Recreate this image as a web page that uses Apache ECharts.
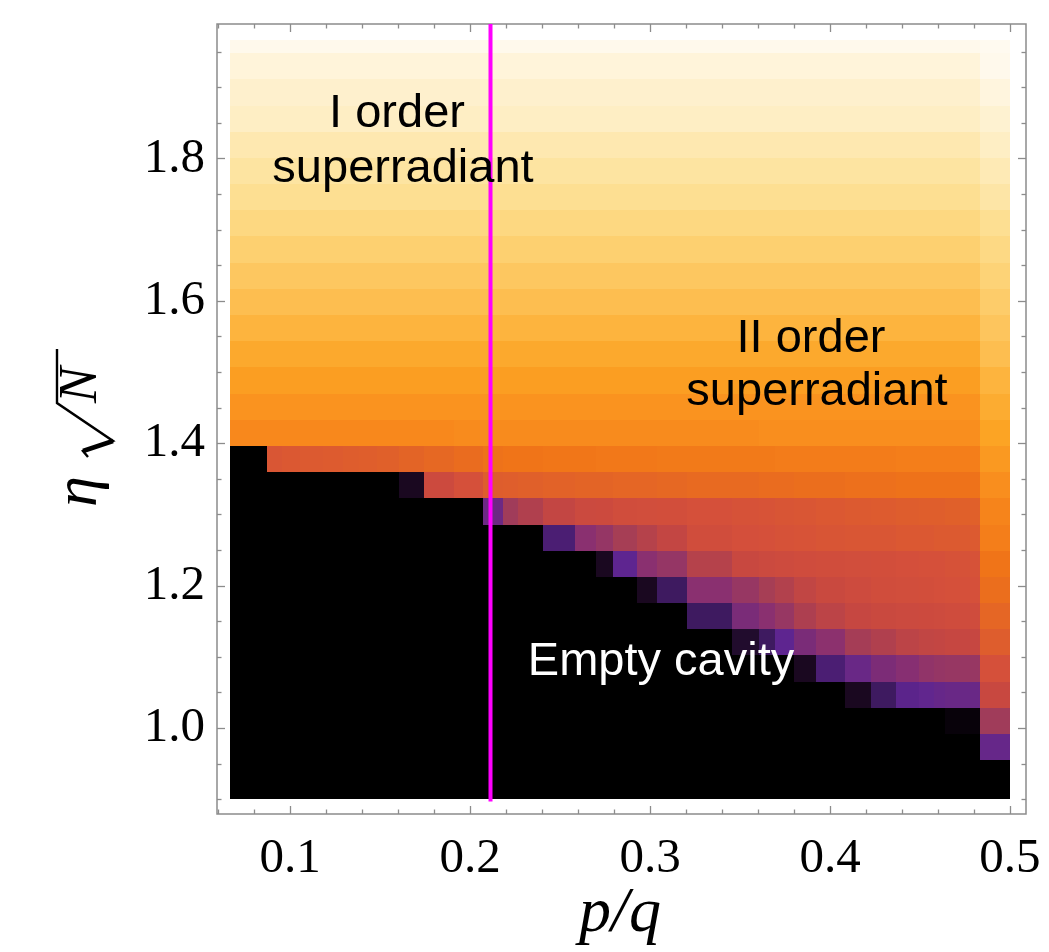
<!DOCTYPE html>
<html>
<head>
<meta charset="utf-8">
<script src="https://cdn.jsdelivr.net/npm/echarts@6/dist/echarts.min.js"></script>
<style>
html, body { margin: 0; padding: 0; background: #fff; }
#main { width: 1049px; height: 952px; }
</style>
</head>
<body>
<div id="main"></div>
<script>
// columns: p/q values (Farey fractions up to q = 15)
var xs = [1/15, 1/14, 1/13, 1/12, 1/11, 1/10, 1/9, 1/8, 2/15, 1/7,
          2/13, 1/6, 2/11, 1/5, 3/14, 2/9, 3/13, 1/4, 4/15, 3/11,
          2/7, 3/10, 4/13, 1/3, 5/14, 4/11, 3/8, 5/13, 2/5, 5/12,
          3/7, 4/9, 5/11, 6/13, 7/15, 1/2];
// rows: eta*sqrt(N)
var ys = [0.9000, 0.9368, 0.9736, 1.0103, 1.0471, 1.0839, 1.1207, 1.1575, 1.1943, 1.2310,
          1.2678, 1.3046, 1.3414, 1.3782, 1.4149, 1.4517, 1.4885, 1.5253, 1.5621, 1.5989,
          1.6356, 1.6724, 1.7092, 1.7460, 1.7828, 1.8196, 1.8563, 1.8931, 1.9299, 1.9667];

// cell values (colour level 0..18), one row per ys entry, bottom row first
var levels = [
  [0,0,0,0,0,0,0,0,0,0, 0,0,0,0,0,0,0,0,0,0, 0,0,0,0,0,0,0,0,0,0, 0,0,0,0,0,0],
  [0,0,0,0,0,0,0,0,0,0, 0,0,0,0,0,0,0,0,0,0, 0,0,0,0,0,0,0,0,0,0, 0,0,0,0,0,0],
  [0,0,0,0,0,0,0,0,0,0, 0,0,0,0,0,0,0,0,0,0, 0,0,0,0,0,0,0,0,0,0, 0,0,0,0,0,3.3],
  [0,0,0,0,0,0,0,0,0,0, 0,0,0,0,0,0,0,0,0,0, 0,0,0,0,0,0,0,0,0,0, 0,0,0,0,0.3,6],
  [0,0,0,0,0,0,0,0,0,0, 0,0,0,0,0,0,0,0,0,0, 0,0,0,0,0,0,0,0,0,1, 2,2.9,3.1,3.3,3.4,8],
  [0,0,0,0,0,0,0,0,0,0, 0,0,0,0,0,0,0,0,0,0, 0,0,0,0,0,0,0,1,2.4,3.4, 4.1,4.8,5.3,5.5,5.6,9],
  [0,0,0,0,0,0,0,0,0,0, 0,0,0,0,0,0,0,0,0,0, 0,0,0,0,1.2,2,3,4,5.1,6.3, 7,7.5,7.7,7.8,7.9,9.8],
  [0,0,0,0,0,0,0,0,0,0, 0,0,0,0,0,0,0,0,0,0, 0,0,0,2,4,5,5.6,6.8,7.5,7.9, 8.1,8.2,8.3,8.4,8.5,10.3],
  [0,0,0,0,0,0,0,0,0,0, 0,0,0,0,0,0,0,0,0,0, 0,1,2,5,5.6,6.4,7.1,7.7,8.1,8.4, 8.6,8.7,8.8,8.9,9.0,10.7],
  [0,0,0,0,0,0,0,0,0,0, 0,0,0,0,0,0,0,0,0,1, 3,5,5.5,7.2,8.0,8.2,8.4,8.5,8.6,8.7, 8.8,8.9,9.0,9.0,9.1,11.0],
  [0,0,0,0,0,0,0,0,0,0, 0,0,0,0,0,0,0,2.4,5,5.5, 6.4,7.2,7.8,8.6,8.9,9.0,9.1,9.2,9.3,9.4, 9.4,9.5,9.5,9.6,9.6,11.5],
  [0,0,0,0,0,0,0,0,0,0, 0,0,0,0,3.5,6,7,7.8,8.2,8.3, 8.6,8.7,8.8,9.0,9.1,9.2,9.3,9.4,9.5,9.6, 9.7,9.8,9.9,9.9,10.0,11.8],
  [0,0,0,0,0,0,0,0,0,0, 0,1,8.3,9.0,9.8,9.9,10.0,10.1,10.2,10.2, 10.3,10.3,10.4,10.5,10.5,10.6,10.6,10.7,10.7,10.8, 10.8,10.9,10.9,10.9,10.9,12.2],
  [0,0,0,0,9.4,9.5,9.6,9.7,9.8,9.9, 10.0,10.2,10.4,10.6,10.9,11.0,11.0,11.1,11.1,11.2, 11.2,11.2,11.3,11.3,11.3,11.3,11.4,11.4,11.4,11.4, 11.4,11.5,11.5,11.5,11.5,12.6],
  [12,12,12,12,12,12,12,12,12,12, 12,12,12,12.1,12.1,12.1,12.1,12.1,12.1,12.1, 12.1,12.1,12.1,12.1,12.1,12.2,12.2,12.2,12.2,12.2, 12.2,12.2,12.2,12.2,12.2,13.0],
  [12.4,12.4,12.4,12.4,12.4,12.4,12.4,12.4,12.4,12.4, 12.4,12.4,12.4,12.4,12.4,12.4,12.4,12.4,12.4,12.4, 12.4,12.4,12.4,12.4,12.4,12.4,12.4,12.4,12.4,12.4, 12.4,12.4,12.4,12.4,12.4,13.3],
  [12.8,12.8,12.8,12.8,12.8,12.8,12.8,12.8,12.8,12.8, 12.8,12.8,12.8,12.8,12.8,12.8,12.8,12.8,12.8,12.8, 12.8,12.8,12.8,12.8,12.8,12.8,12.8,12.8,12.8,12.8, 12.8,12.8,12.8,12.8,12.8,13.6],
  [13.2,13.2,13.2,13.2,13.2,13.2,13.2,13.2,13.2,13.2, 13.2,13.2,13.2,13.2,13.2,13.2,13.2,13.2,13.2,13.2, 13.2,13.2,13.2,13.2,13.2,13.2,13.2,13.2,13.2,13.2, 13.2,13.2,13.2,13.2,13.2,14.0],
  [13.6,13.6,13.6,13.6,13.6,13.6,13.6,13.6,13.6,13.6, 13.6,13.6,13.6,13.6,13.6,13.6,13.6,13.6,13.6,13.6, 13.6,13.6,13.6,13.6,13.6,13.6,13.6,13.6,13.6,13.6, 13.6,13.6,13.6,13.6,13.6,14.4],
  [14.0,14.0,14.0,14.0,14.0,14.0,14.0,14.0,14.0,14.0, 14.0,14.0,14.0,14.0,14.0,14.0,14.0,14.0,14.0,14.0, 14.0,14.0,14.0,14.0,14.0,14.0,14.0,14.0,14.0,14.0, 14.0,14.0,14.0,14.0,14.0,14.8],
  [14.5,14.5,14.5,14.5,14.5,14.5,14.5,14.5,14.5,14.5, 14.5,14.5,14.5,14.5,14.5,14.5,14.5,14.5,14.5,14.5, 14.5,14.5,14.5,14.5,14.5,14.5,14.5,14.5,14.5,14.5, 14.5,14.5,14.5,14.5,14.5,15.2],
  [15.0,15.0,15.0,15.0,15.0,15.0,15.0,15.0,15.0,15.0, 15.0,15.0,15.0,15.0,15.0,15.0,15.0,15.0,15.0,15.0, 15.0,15.0,15.0,15.0,15.0,15.0,15.0,15.0,15.0,15.0, 15.0,15.0,15.0,15.0,15.0,15.6],
  [15.5,15.5,15.5,15.5,15.5,15.5,15.5,15.5,15.5,15.5, 15.5,15.5,15.5,15.5,15.5,15.5,15.5,15.5,15.5,15.5, 15.5,15.5,15.5,15.5,15.5,15.5,15.5,15.5,15.5,15.5, 15.5,15.5,15.5,15.5,15.5,16.0],
  [16.0,16.0,16.0,16.0,16.0,16.0,16.0,16.0,16.0,16.0, 16.0,16.0,16.0,16.0,16.0,16.0,16.0,16.0,16.0,16.0, 16.0,16.0,16.0,16.0,16.0,16.0,16.0,16.0,16.0,16.0, 16.0,16.0,16.0,16.0,16.0,16.4],
  [16.3,16.3,16.3,16.3,16.3,16.3,16.3,16.3,16.3,16.3, 16.3,16.3,16.3,16.3,16.3,16.3,16.3,16.3,16.3,16.3, 16.3,16.3,16.3,16.3,16.3,16.3,16.3,16.3,16.3,16.3, 16.3,16.3,16.3,16.3,16.3,16.7],
  [16.6,16.6,16.6,16.6,16.6,16.6,16.6,16.6,16.6,16.6, 16.6,16.6,16.6,16.6,16.6,16.6,16.6,16.6,16.6,16.6, 16.6,16.6,16.6,16.6,16.6,16.6,16.6,16.6,16.6,16.6, 16.6,16.6,16.6,16.6,16.6,17.0],
  [17.0,17.0,17.0,17.0,17.0,17.0,17.0,17.0,17.0,17.0, 17.0,17.0,17.0,17.0,17.0,17.0,17.0,17.0,17.0,17.0, 17.0,17.0,17.0,17.0,17.0,17.0,17.0,17.0,17.0,17.0, 17.0,17.0,17.0,17.0,17.0,17.3],
  [17.2,17.2,17.2,17.2,17.2,17.2,17.2,17.2,17.2,17.2, 17.2,17.2,17.2,17.2,17.2,17.2,17.2,17.2,17.2,17.2, 17.2,17.2,17.2,17.2,17.2,17.2,17.2,17.2,17.2,17.2, 17.2,17.2,17.2,17.2,17.2,17.6],
  [17.5,17.5,17.5,17.5,17.5,17.5,17.5,17.5,17.5,17.5, 17.5,17.5,17.5,17.5,17.5,17.5,17.5,17.5,17.5,17.5, 17.5,17.5,17.5,17.5,17.5,17.5,17.5,17.5,17.5,17.5, 17.5,17.5,17.5,17.5,17.5,17.9],
  [17.9,17.9,17.9,17.9,17.9,17.9,17.9,17.9,17.9,17.9, 17.9,17.9,17.9,17.9,17.9,17.9,17.9,17.9,17.9,17.9, 17.9,17.9,17.9,17.9,17.9,17.9,17.9,17.9,17.9,17.9, 17.9,17.9,17.9,17.9,17.9,18.0]
];

// sunset-like palette, evenly spread over levels 0..18
var sunset = ['#000000', '#1a0820', '#3e1a60', '#5e2590', '#7a2c78', '#8a3070', '#a03c5a',
              '#b0404e', '#c84840', '#d5503a', '#e0602a', '#f07418', '#f8881c', '#fca424',
              '#fdbe50', '#fdd070', '#fddf92', '#feeec4', '#fffaf0'];

var xMajor = [0.1, 0.2, 0.3, 0.4, 0.5];
var xMinor = [0.06, 0.08, 0.12, 0.14, 0.16, 0.18, 0.22, 0.24, 0.26, 0.28,
              0.32, 0.34, 0.36, 0.38, 0.42, 0.44, 0.46, 0.48];
var yMajor = [1.0, 1.2, 1.4, 1.6, 1.8];
var yMinor = [0.9, 0.95, 1.05, 1.1, 1.15, 1.25, 1.3, 1.35, 1.45, 1.5, 1.55,
              1.65, 1.7, 1.75, 1.85, 1.9, 1.95];
var critX = 0.2113; // vertical magenta marker

var X_MIN = 0.0593, X_MAX = 0.5089, Y_MIN = 0.8796, Y_MAX = 1.9892;
var FRAME = '#8c8c8c';

var cells = [];
for (var k = 0; k < ys.length; k++) {
    for (var c = 0; c < xs.length; c++) {
        cells.push([xs[c], ys[k], levels[k][c], c, k]);
    }
}

// each cell spans half way to its neighbours (edge cells are half cells)
function renderCell(params, api) {
    var c = api.value(3), k = api.value(4);
    var n = xs.length - 1, m = ys.length - 1;
    var x0 = c === 0 ? xs[0] : (xs[c - 1] + xs[c]) / 2;
    var x1 = c === n ? xs[n] : (xs[c] + xs[c + 1]) / 2;
    var y0 = k === 0 ? ys[0] : (ys[k - 1] + ys[k]) / 2;
    var y1 = k === m ? ys[m] : (ys[k] + ys[k + 1]) / 2;
    var p0 = api.coord([x0, y1]);
    var p1 = api.coord([x1, y0]);
    var l = Math.round(p0[0]), t = Math.round(p0[1]);
    var r = Math.round(p1[0]), b = Math.round(p1[1]);
    return {
        type: 'rect',
        shape: { x: l, y: t, width: r - l, height: b - t },
        style: { fill: api.visual('color') }
    };
}

function xAxisDef(pos, vals, len, labels) {
    return {
        type: 'value', min: X_MIN, max: X_MAX, position: pos,
        axisLine: { show: false }, splitLine: { show: false },
        axisTick: { inside: true, length: len, customValues: vals, lineStyle: { color: FRAME, width: 1.3 } },
        axisLabel: labels ? {
            customValues: vals, margin: 21, color: '#000',
            fontFamily: 'Liberation Serif', fontSize: 49,
            formatter: function (v) { return v.toFixed(1); }
        } : { show: false }
    };
}
function yAxisDef(pos, vals, len, labels) {
    return {
        type: 'value', min: Y_MIN, max: Y_MAX, position: pos,
        axisLine: { show: false }, splitLine: { show: false },
        axisTick: { inside: true, length: len, customValues: vals, lineStyle: { color: FRAME, width: 1.3 } },
        axisLabel: labels ? {
            customValues: vals, margin: 12, color: '#000',
            fontFamily: 'Liberation Serif', fontSize: 49,
            formatter: function (v) { return v.toFixed(1); }
        } : { show: false }
    };
}

function note(txt, x, y, color) {
    return {
        type: 'text', x: x, y: y, z: 100,
        style: {
            text: txt, fill: color, font: '47px "Liberation Sans"',
            align: 'center', verticalAlign: 'middle',
            textAlign: 'center', textVerticalAlign: 'middle'
        }
    };
}

var chart = echarts.init(document.getElementById('main'));
var option = {
    animation: false,
    backgroundColor: '#ffffff',
    grid: { left: 217, right: 23, top: 24, bottom: 138, show: true,
            borderColor: FRAME, borderWidth: 1.5, backgroundColor: 'transparent' },
    xAxis: [
        xAxisDef('bottom', xMajor, 8, true),
        xAxisDef('bottom', xMinor, 4.5, false),
        xAxisDef('top', xMajor, 8, false),
        xAxisDef('top', xMinor, 4.5, false)
    ],
    yAxis: [
        yAxisDef('left', yMajor, 8, true),
        yAxisDef('left', yMinor, 4.5, false),
        yAxisDef('right', yMajor, 8, false),
        yAxisDef('right', yMinor, 4.5, false)
    ],
    visualMap: {
        show: false, type: 'continuous', min: 0, max: 18,
        dimension: 2, seriesIndex: 0, inRange: { color: sunset }
    },
    series: [
        {
            type: 'custom', renderItem: renderCell, data: cells,
            encode: { x: 0, y: 1 }, xAxisIndex: 0, yAxisIndex: 0
        },
        {
            type: 'line', data: [[critX, 0.897], [critX, Y_MAX]],
            xAxisIndex: 0, yAxisIndex: 0, symbol: 'none', z: 5,
            lineStyle: { color: '#ff00ff', width: 4 }
        }
    ],
    graphic: [
        note('I order', 397, 114, '#000'),
        note('superradiant', 403, 169, '#000'),
        note('II order', 811, 339, '#000'),
        note('superradiant', 817, 392, '#000'),
        note('Empty cavity', 661, 662, '#fff'),
        {
            type: 'text', x: 620, y: 914,
            style: {
                text: 'p/q', fill: '#000', font: 'italic 64px "Liberation Serif"',
                align: 'center', verticalAlign: 'middle',
                textAlign: 'center', textVerticalAlign: 'middle'
            }
        },
        {
            // eta sqrt(N), drawn left to right then turned to read upwards
            type: 'group', x: 100, y: 505, rotation: Math.PI / 2,
            children: [
                { type: 'text', x: -2, y: -20,
                  style: { text: '\u03b7', fill: '#000', font: 'italic 62px "Liberation Serif"',
                           align: 'left', verticalAlign: 'middle', textAlign: 'left', textVerticalAlign: 'middle' } },
                { type: 'polyline', shape: { points: [[48, -12], [54, -17], [64, 13], [102, -43], [156, -43]] },
                  style: { stroke: '#000', lineWidth: 2.4, fill: null } },
                { type: 'line', shape: { x1: 54, y1: -17, x2: 64, y2: 13 },
                  style: { stroke: '#000', lineWidth: 4.5 } },
                { type: 'text', x: 102, y: -18,
                  style: { text: 'N', fill: '#000', font: 'italic 54px "Liberation Serif"',
                           align: 'left', verticalAlign: 'middle', textAlign: 'left', textVerticalAlign: 'middle' } }
            ]
        }
    ]
};
chart.setOption(option);
</script>
</body>
</html>
